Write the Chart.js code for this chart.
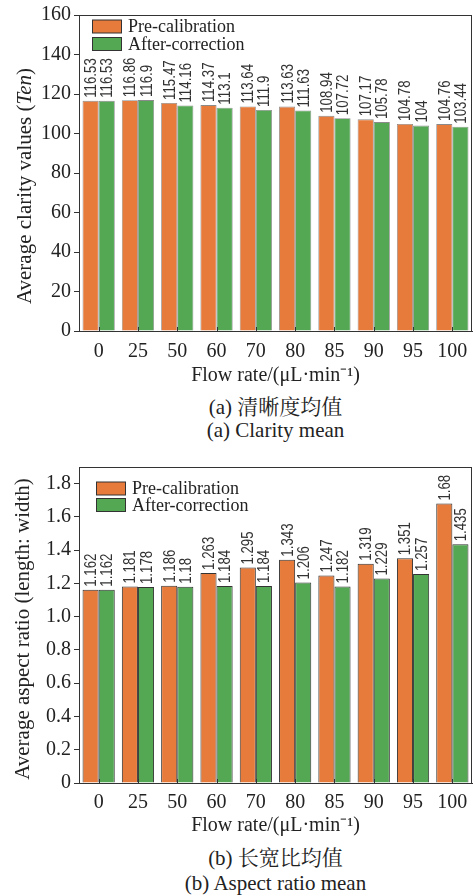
<!DOCTYPE html>
<html>
<head>
<meta charset="utf-8">
<script src="https://cdn.jsdelivr.net/npm/chart.js@4/dist/chart.umd.min.js"></script>
<style>
  body { margin: 0; background: #fff; width: 475px; height: 895px; position: relative; overflow: hidden; }
  canvas { position: absolute; left: 0; }
  .cap { position: absolute; left: 0; width: 551px; text-align: center; color: #222;
         font-family: "Liberation Serif", "Noto Serif CJK SC", "Noto Sans CJK SC", serif;
         font-size: 21px; line-height: 24px; white-space: nowrap; }
</style>
</head>
<body>
<canvas id="clarity" width="475" height="392" style="top:0"></canvas>
<div class="cap" style="top:395px">(a) 清晰度均值</div>
<div class="cap" style="top:418px">(a) Clarity mean</div>
<canvas id="aspect" width="475" height="400" style="top:440px"></canvas>
<div class="cap" style="top:846px">(b) 长宽比均值</div>
<div class="cap" style="top:871px">(b) Aspect ratio mean</div>

<script>
// data
const flowRates = ['0', '25', '50', '60', '70', '80', '85', '90', '95', '100'];
const clarityPre = [116.53, 116.86, 115.47, 114.37, 113.64, 113.63, 108.94, 107.17, 104.78, 104.76];
const clarityAfter = [116.53, 116.9, 114.16, 113.1, 111.9, 111.63, 107.72, 105.78, 104, 103.44];
const aspectPre = [1.162, 1.181, 1.186, 1.263, 1.295, 1.343, 1.247, 1.319, 1.351, 1.68];
const aspectAfter = [1.162, 1.178, 1.18, 1.184, 1.184, 1.206, 1.182, 1.229, 1.257, 1.435];
const clarityTicks = [0, 20, 40, 60, 80, 100, 120, 140, 160];
const aspectTicks = [0, 0.2, 0.4, 0.6, 0.8, 1.0, 1.2, 1.4, 1.6, 1.8];

const ORANGE = '#E77B3B';
const GREEN = '#54A854';
const SERIF = '"Liberation Serif", "Times New Roman", serif';
const INK = '#222';

// box around the plot + small inward ticks on x
const framePlugin = {
  id: 'frame',
  afterDraw(chart) {
    const { ctx, chartArea: a } = chart;
    const xs = chart.scales.x;
    ctx.save();
    ctx.strokeStyle = '#333';
    ctx.lineWidth = 1;
    ctx.strokeRect(a.left + 0.5, a.top + 0.5, a.right - a.left - 1, a.bottom - a.top);
    ctx.beginPath();
    xs.ticks.forEach((t, i) => {
      const x = Math.round(xs.getPixelForValue(i)) + 0.5;
      ctx.moveTo(x, a.bottom);
      ctx.lineTo(x, a.bottom - 4);
    });
    ctx.stroke();
    ctx.restore();
  }
};

// vertical value labels above each bar (narrowed sans)
const valueLabels = {
  id: 'valueLabels',
  afterDatasetsDraw(chart) {
    const ctx = chart.ctx;
    ctx.save();
    ctx.font = '16px "Liberation Sans Narrow", "Liberation Sans", sans-serif';
    ctx.fillStyle = '#333';
    ctx.textAlign = 'left';
    ctx.textBaseline = 'alphabetic';
    chart.data.datasets.forEach((ds, di) => {
      chart.getDatasetMeta(di).data.forEach((bar, i) => {
        ctx.save();
        ctx.translate(bar.x + 5.5, bar.y - 3);
        ctx.rotate(-Math.PI / 2);
        ctx.scale(0.83, 1);
        ctx.fillText(String(ds.data[i]), 0, 0);
        ctx.restore();
      });
    });
    ctx.restore();
  }
};

// legend drawn inside the plot, top-left
const boxLegend = {
  id: 'boxLegend',
  afterDraw(chart, args, opts) {
    const ctx = chart.ctx;
    ctx.save();
    ctx.font = '18px ' + SERIF;
    ctx.textBaseline = 'middle';
    chart.data.datasets.forEach((ds, i) => {
      const y = opts.y + i * opts.step;
      ctx.fillStyle = ds.backgroundColor;
      ctx.fillRect(opts.x, y - 6.5, 30, 13);
      ctx.strokeStyle = '#333';
      ctx.lineWidth = 1;
      ctx.strokeRect(opts.x + 0.5, y - 6.5, 29, 13);
      ctx.fillStyle = INK;
      ctx.fillText(ds.label, opts.x + 36, y + 1);
    });
    ctx.restore();
  }
};

// rotated y title, allows an italic piece
const yTitle = {
  id: 'yTitle',
  afterDraw(chart, args, opts) {
    const ctx = chart.ctx;
    ctx.save();
    const parts = opts.parts;
    const fontOf = p => (p.italic ? 'italic ' : '') + '21px ' + SERIF;
    let total = 0;
    parts.forEach(p => { ctx.font = fontOf(p); total += ctx.measureText(p.text).width; });
    ctx.translate(opts.x, opts.y);
    ctx.rotate(-Math.PI / 2);
    ctx.fillStyle = INK;
    ctx.textBaseline = 'middle';
    let x = -total / 2;
    parts.forEach(p => {
      ctx.font = fontOf(p);
      ctx.fillText(p.text, x, 0);
      x += ctx.measureText(p.text).width;
    });
    ctx.restore();
  }
};

function makeChart(id, pre, after, cfg) {
  const ctx = document.getElementById(id).getContext('2d');
  return new Chart(ctx, {
    type: 'bar',
    data: {
      labels: flowRates,
      datasets: [
        { label: 'Pre-calibration', data: pre, backgroundColor: ORANGE, borderColor: cfg.edge, borderWidth: cfg.edgeW },
        { label: 'After-correction', data: after, backgroundColor: GREEN, borderColor: cfg.edge, borderWidth: cfg.edgeW }
      ]
    },
    options: {
      responsive: false,
      animation: false,
      datasets: { bar: { categoryPercentage: 0.82, barPercentage: 1 } },
      layout: { padding: { top: cfg.top, right: 3, left: 0, bottom: 0 } },
      scales: {
        x: {
          grid: { display: false },
          border: { display: true, color: '#333' },
          ticks: { color: INK, font: { family: SERIF, size: 20 }, padding: cfg.tickPad, maxRotation: 0 },
          title: { display: true, text: 'Flow rate/(μL·min⁻¹)', color: INK,
                   font: { family: SERIF, size: 20 }, padding: { top: 0, bottom: cfg.titlePad } },
          afterFit: s => { s.height = cfg.xh; }
        },
        y: {
          min: 0,
          max: cfg.max,
          grid: { drawOnChartArea: false, drawTicks: true, tickLength: 5, color: '#333' },
          border: { color: '#333' },
          ticks: { color: INK, font: { family: SERIF, size: 20 }, padding: 3, callback: cfg.fmt },
          afterBuildTicks: s => { s.ticks = cfg.ticks.map(v => ({ value: v })); },
          afterFit: s => { s.width = 79; }
        }
      },
      plugins: {
        legend: { display: false },
        tooltip: { enabled: false },
        boxLegend: cfg.legend,
        yTitle: cfg.ytitle
      }
    },
    plugins: [framePlugin, valueLabels, boxLegend, yTitle]
  });
}

makeChart('clarity', clarityPre, clarityAfter, {
  top: 15, xh: 61, tickPad: 1, titlePad: 4, max: 160, ticks: clarityTicks,
  edge: 'rgba(60,60,60,0.6)', edgeW: 0.8,
  fmt: v => String(v),
  legend: { x: 92, y: 26.5, step: 17.5 },
  ytitle: { x: 25, y: 186, parts: [{ text: 'Average clarity values (' }, { text: 'Ten', italic: true }, { text: ')' }] }
});

makeChart('aspect', aspectPre, aspectAfter, {
  top: 27, xh: 57, tickPad: 0, titlePad: 2, max: 1.9, ticks: aspectTicks,
  edge: '#333', edgeW: 1,
  fmt: v => (v === 0 ? '0' : v.toFixed(1)),
  legend: { x: 96, y: 48.5, step: 16.5 },
  ytitle: { x: 23, y: 189, parts: [{ text: 'Average aspect ratio (length: width)' }] }
});
</script>
</body>
</html>
